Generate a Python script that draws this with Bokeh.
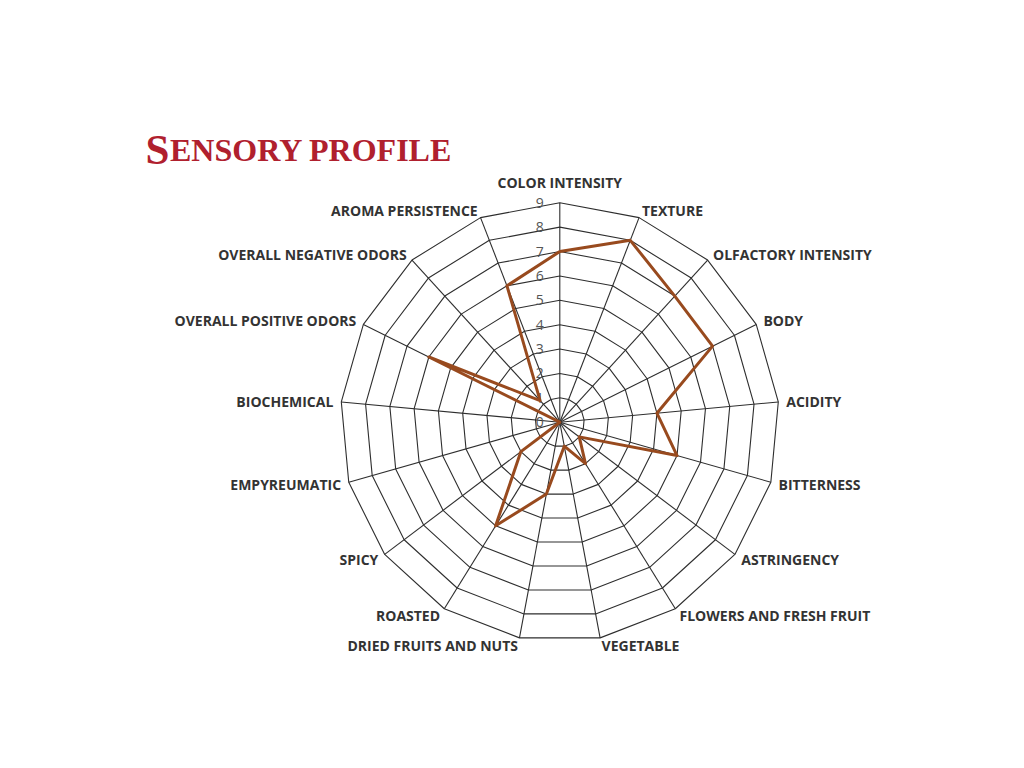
import numpy as np
from bokeh.plotting import figure
from bokeh.models import Range1d, Label, ColumnDataSource
from bokeh.core.properties import value
from bokeh.embed import file_html
from bokeh.resources import INLINE

categories = ["COLOR INTENSITY", "TEXTURE", "OLFACTORY INTENSITY", "BODY", "ACIDITY",
              "BITTERNESS", "ASTRINGENCY", "FLOWERS AND FRESH FRUIT", "VEGETABLE",
              "DRIED FRUITS AND NUTS", "ROASTED", "SPICY", "EMPYREUMATIC", "BIOCHEMICAL",
              "OVERALL POSITIVE ODORS", "OVERALL NEGATIVE ODORS", "AROMA PERSISTENCE"]
scores = [7, 8, 7, 7, 4, 5, 1, 2, 1, 3, 5, 2, 0, 0, 6, 1.2, 6]
tick_values = [0, 1, 2, 3, 4, 5, 6, 7, 8, 9]
tick_labels = ["0", "1", "2", "3", "4", "5", "6", "7", "8", "9"]

W, H = 1008, 750
UNIT = 24.38            # pixels per rating unit
CX, CY = 559.3, 421.7   # center in canvas pixels
RMAX = 9

p = figure(width=W, height=H, output_backend="svg", toolbar_location=None,
           x_range=Range1d(-CX / UNIT, (W - CX) / UNIT),
           y_range=Range1d(-(H - CY) / UNIT, CY / UNIT),
           min_border=0, outline_line_color=None)
p.axis.visible = False
p.grid.visible = False
p.background_fill_color = "white"
p.border_fill_color = "white"

n = len(categories)
theta = np.arange(n) * 2 * np.pi / n
sx, sy = np.sin(theta), np.cos(theta)

grid_col = "#2e2e2e"
# rings
rx, ry = [], []
for t in tick_values[1:]:
    rx.append(list(np.append(sx, sx[0]) * t))
    ry.append(list(np.append(sy, sy[0]) * t))
p.multi_line(rx, ry, line_color=grid_col, line_width=1.1)
# spokes
p.segment(x0=np.zeros(n), y0=np.zeros(n), x1=sx * RMAX, y1=sy * RMAX,
          line_color=grid_col, line_width=1.1)

# tick labels along first spoke
p.text(x=[-16 / UNIT] * len(tick_values), y=tick_values, text=tick_labels,
       text_font=value("Open Sans"), text_font_size="14px", text_color="#555555",
       text_align="right", text_baseline="middle")

# series
vals = np.array(scores, dtype=float)
xs = np.append(vals * sx, vals[0] * sx[0])
ys = np.append(vals * sy, vals[0] * sy[0])
p.line(xs, ys, line_color="#984A1E", line_width=3, line_join="round")

# category labels
off = RMAX + 8 / UNIT
lx, ly, la, lb = [], [], [], []
for i, c in enumerate(categories):
    x, y = off * sx[i], off * sy[i]
    if abs(sx[i]) < 0.1:
        align = "center"
        base = "bottom"
        y = RMAX + 11 / UNIT
    elif sx[i] > 0:
        align, base = "left", "middle"
    else:
        align, base = "right", "middle"
    lx.append(x); ly.append(y); la.append(align); lb.append(base)
src = ColumnDataSource(dict(x=lx, y=ly, text=categories, align=la, base=lb))
p.text(x="x", y="y", text="text", source=src, text_align="align", text_baseline="base",
       text_font=value("Open Sans"), text_font_style="bold", text_font_size="14px",
       text_color="#333333")

# title in small caps
title_col = "#B0202E"
p.add_layout(Label(x=145, y=H - 149, x_units="screen", y_units="screen", text="S",
                   text_font="Liberation Serif", text_font_style="bold",
                   text_font_size="43px", text_color=title_col, text_baseline="alphabetic"))
p.add_layout(Label(x=169.5, y=H - 149, x_units="screen", y_units="screen", text="ENSORY PROFILE",
                   text_font="Liberation Serif", text_font_style="bold",
                   text_font_size="32px", text_color=title_col, text_baseline="alphabetic"))

open("out.html", "w").write(file_html(p, INLINE))
